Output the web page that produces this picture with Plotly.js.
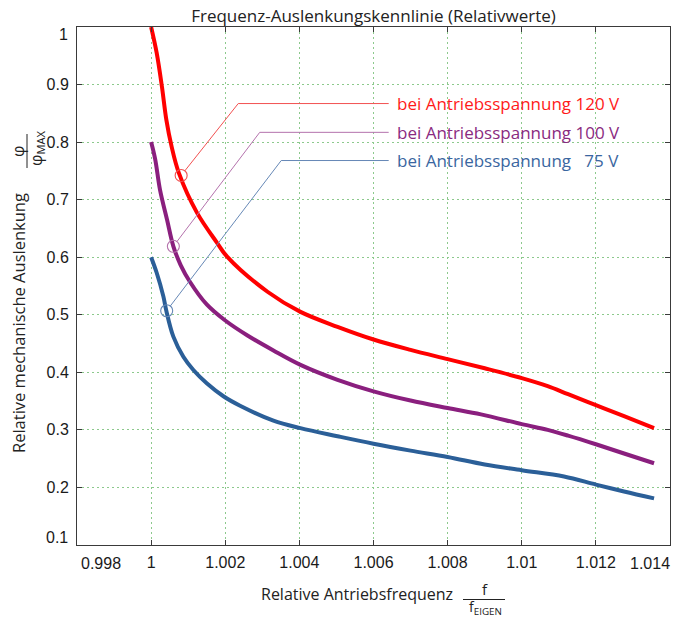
<!DOCTYPE html>
<html>
<head>
<meta charset="utf-8">
<script src="https://cdn.plot.ly/plotly-3.0.1.min.js"></script>
<style>html,body{margin:0;padding:0;background:#fff;}#chart{width:689px;height:619px;}</style>
</head>
<body>
<div id="chart"></div>
<script>
// ---- data ----
const redX = [1.0000, 1.00015, 1.00029, 1.00041, 1.00055, 1.00075, 1.00124, 1.00178, 1.00205, 1.00314, 1.00403, 1.00503, 1.006, 1.007, 1.008, 1.009, 1.010, 1.0107, 1.01125, 1.012, 1.01276, 1.01357];
const redY = [1.000, 0.955, 0.897, 0.839, 0.793, 0.746, 0.677, 0.625, 0.601, 0.540, 0.505, 0.479, 0.457, 0.439, 0.423, 0.407, 0.390, 0.376, 0.362, 0.343, 0.324, 0.303];

const purpleX = [1.0000, 1.00011, 1.00024, 1.00043, 1.0006, 1.0008, 1.00105, 1.0015, 1.002, 1.0026, 1.0033, 1.00403, 1.00503, 1.006, 1.007, 1.008, 1.0089, 1.010, 1.0107, 1.01125, 1.012, 1.01276, 1.01357];
const purpleY = [0.800, 0.770, 0.717, 0.665, 0.619, 0.586, 0.557, 0.518, 0.490, 0.464, 0.438, 0.413, 0.387, 0.367, 0.351, 0.338, 0.327, 0.310, 0.300, 0.290, 0.275, 0.259, 0.242];

const blueX = [1.0000, 1.00015, 1.00033, 1.00041, 1.0006, 1.00087, 1.00114, 1.0015, 1.00196, 1.0024, 1.0033, 1.00403, 1.00503, 1.006, 1.007, 1.008, 1.009, 1.010, 1.01114, 1.012, 1.01276, 1.01357];
const blueY = [0.600, 0.573, 0.532, 0.507, 0.462, 0.427, 0.404, 0.381, 0.358, 0.342, 0.316, 0.303, 0.289, 0.276, 0.264, 0.253, 0.240, 0.230, 0.219, 0.205, 0.193, 0.181];

const seriesNames = ['bei Antriebsspannung 120 V', 'bei Antriebsspannung 100 V', 'bei Antriebsspannung \u00a0\u00a075 V'];
// callout markers (point on curve), elbow of leader line, end of leader line
const calloutX = [1.00081, 1.0006, 1.00042];
const calloutY = [0.742, 0.619, 0.507];
const elbowX = [1.00235, 1.00293, 1.00351];
const elbowY = [0.867, 0.817, 0.768];
const leaderEndX = 1.00641;
const labelX = 1.00658;

const xRange = [0.998, 1.014];
const yRange = [0.1, 1.0];
const xTickVals = [1.000, 1.002, 1.004, 1.006, 1.008, 1.010, 1.012];
const xTickText = ['1', '1.002', '1.004', '1.006', '1.008', '1.01', '1.012'];
const xEndLabels = ['0.998', '1.014'];
const yTickVals = [0.2, 0.3, 0.4, 0.5, 0.6, 0.7, 0.8, 0.9];
const yTickText = ['0.2', '0.3', '0.4', '0.5', '0.6', '0.7', '0.8', '0.9'];
const yEndLabels = ['0.1', '1'];

const chartTitle = 'Frequenz-Auslenkungskennlinie (Relativwerte)';
const xTitle = 'Relative Antriebsfrequenz';
const yTitle = 'Relative mechanische Auslenkung';

// ---- styles / geometry ----
const W = 689, H = 619;
const M = {l: 77, r: 19, t: 27, b: 74};
const plotW = W - M.l - M.r, plotH = H - M.t - M.b;
const curveColors = ['#ff0000', '#8a1f7e', '#2b5f98'];
const leaderColors = ['#f25050', '#b472ac', '#6688b6'];
const textColors = ['#ff1a1a', '#8a2a80', '#3a66a0'];
const sansFont = 'Open Sans, Noto Sans, sans-serif';
const tickFont = 'Liberation Sans, Arial, sans-serif';
const gridColor = '#8cc98c';
const axisColor = '#3a3a3a';
const titleColor = '#222222';

const xs = [redX, purpleX, blueX];
const ys = [redY, purpleY, blueY];

const traces = xs.map((x, i) => ({
  x: x, y: ys[i], type: 'scatter', mode: 'lines', name: seriesNames[i],
  line: {color: curveColors[i], width: 4, shape: 'spline', smoothing: 1},
  hoverinfo: 'skip'
}));
calloutX.forEach((cx, i) => {
  traces.push({
    x: [cx], y: [calloutY[i]], type: 'scatter', mode: 'markers', showlegend: false,
    marker: {symbol: 'circle-open', size: 12, color: leaderColors[i], line: {width: 1.1, color: leaderColors[i]}},
    hoverinfo: 'skip'
  });
});

const pxPerX = plotW / (xRange[1] - xRange[0]);
const pxPerY = plotH / (yRange[1] - yRange[0]);
const px2x = p => (p - M.l) / plotW;        // pixel -> paper x
const py2y = p => (H - M.b - p) / plotH;    // pixel -> paper y

const shapes = [];
const annotations = [];
calloutX.forEach((cx, i) => {
  // diagonal leader from the elbow to the edge of the circle
  const dxp = (elbowX[i] - cx) * pxPerX, dyp = (elbowY[i] - calloutY[i]) * pxPerY;
  const len = Math.hypot(dxp, dyp), r = 6;
  shapes.push({
    type: 'line', xref: 'x', yref: 'y',
    x0: cx + dxp / len * r / pxPerX, y0: calloutY[i] + dyp / len * r / pxPerY,
    x1: elbowX[i], y1: elbowY[i], line: {color: leaderColors[i], width: 1}
  });
  shapes.push({
    type: 'line', xref: 'x', yref: 'y', x0: elbowX[i], y0: elbowY[i], x1: leaderEndX, y1: elbowY[i],
    line: {color: leaderColors[i], width: 1}
  });
  annotations.push({
    x: labelX, y: elbowY[i], xref: 'x', yref: 'y', text: seriesNames[i], showarrow: false,
    xanchor: 'left', yanchor: 'middle', font: {family: sansFont, size: 17, color: textColors[i]}
  });
});

// end tick labels (drawn slightly inside, as in the reference)
const tickLabelFont = {family: tickFont, size: 16, color: '#1a1a1a'};
annotations.push({xref: 'paper', yref: 'paper', x: px2x(101), y: py2y(563), text: xEndLabels[0], showarrow: false,
  xanchor: 'center', yanchor: 'middle', font: tickLabelFont});
annotations.push({xref: 'paper', yref: 'paper', x: px2x(650), y: py2y(563), text: xEndLabels[1], showarrow: false,
  xanchor: 'center', yanchor: 'middle', font: tickLabelFont});
annotations.push({xref: 'paper', yref: 'paper', x: px2x(70), y: py2y(537), text: yEndLabels[0], showarrow: false,
  xanchor: 'right', yanchor: 'middle', font: tickLabelFont});
annotations.push({xref: 'paper', yref: 'paper', x: px2x(70), y: py2y(35), text: yEndLabels[1], showarrow: false,
  xanchor: 'right', yanchor: 'middle', font: tickLabelFont});

// axis titles with fractions
const titleFont = s => ({family: sansFont, size: s, color: titleColor});
annotations.push({xref: 'paper', yref: 'paper', x: px2x(357), y: py2y(594), text: xTitle, showarrow: false,
  xanchor: 'center', yanchor: 'middle', font: titleFont(16)});
annotations.push({xref: 'paper', yref: 'paper', x: px2x(485), y: py2y(589), text: 'f', showarrow: false,
  xanchor: 'center', yanchor: 'middle', font: titleFont(15)});
annotations.push({xref: 'paper', yref: 'paper', x: px2x(485), y: py2y(607), text: 'f<sub>EIGEN</sub>', showarrow: false,
  xanchor: 'center', yanchor: 'middle', font: titleFont(14)});
shapes.push({type: 'line', xref: 'paper', yref: 'paper', x0: px2x(463), x1: px2x(505), y0: py2y(599.5), y1: py2y(599.5),
  line: {color: titleColor, width: 1}});

annotations.push({xref: 'paper', yref: 'paper', x: px2x(18), y: py2y(323), text: yTitle, showarrow: false, textangle: -90,
  xanchor: 'center', yanchor: 'middle', font: titleFont(16.5)});
annotations.push({xref: 'paper', yref: 'paper', x: px2x(18), y: py2y(152), text: '\u03c6', showarrow: false, textangle: -90,
  xanchor: 'center', yanchor: 'middle', font: titleFont(16)});
annotations.push({xref: 'paper', yref: 'paper', x: px2x(36), y: py2y(148), text: '\u03c6<sub>MAX</sub>', showarrow: false, textangle: -90,
  xanchor: 'center', yanchor: 'middle', font: titleFont(16)});
shapes.push({type: 'line', xref: 'paper', yref: 'paper', x0: px2x(27), x1: px2x(27), y0: py2y(168), y1: py2y(134),
  line: {color: titleColor, width: 1}});

const axisCommon = {
  showline: true, mirror: 'ticks', linecolor: axisColor, linewidth: 1,
  ticks: 'inside', ticklen: 5, tickcolor: axisColor, tickwidth: 1,
  showgrid: true, gridcolor: gridColor, griddash: '1.5px,3.5px', gridwidth: 1,
  zeroline: false, tickfont: tickLabelFont, tickmode: 'array'
};

const layout = {
  width: W, height: H,
  margin: M,
  paper_bgcolor: '#ffffff', plot_bgcolor: '#ffffff',
  showlegend: false,
  title: {text: chartTitle, x: 0.5, xref: 'paper', xanchor: 'center',
    y: 1 - 16 / H, yref: 'container', yanchor: 'middle', font: titleFont(17)},
  xaxis: Object.assign({}, axisCommon, {
    range: xRange, tickvals: xTickVals, ticktext: xTickText, ticklabelstandoff: 3
  }),
  yaxis: Object.assign({}, axisCommon, {
    range: yRange, tickvals: yTickVals, ticktext: yTickText, ticklabelstandoff: 4
  }),
  shapes: shapes,
  annotations: annotations
};

Plotly.newPlot('chart', traces, layout, {displayModeBar: false, staticPlot: true});
</script>
</body>
</html>
